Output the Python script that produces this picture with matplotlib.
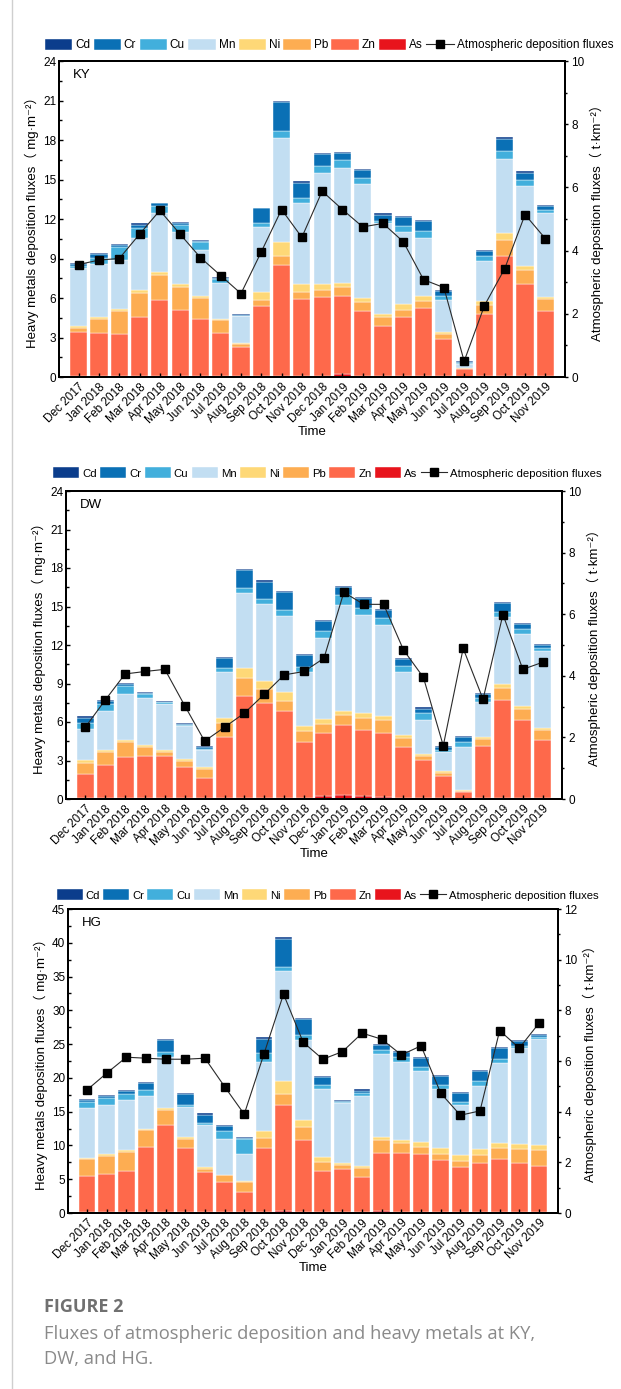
import numpy as np
import matplotlib
matplotlib.use("Agg")
import matplotlib.pyplot as plt
from matplotlib.patches import Patch
from matplotlib.lines import Line2D
from matplotlib.ticker import MultipleLocator

plt.rcParams['font.family'] = ['Liberation Sans', 'DejaVu Sans', 'Noto Sans CJK SC']
plt.rcParams['font.size'] = 8.5

months = ['Dec 2017', 'Jan 2018', 'Feb 2018', 'Mar 2018', 'Apr 2018', 'May 2018',
          'Jun 2018', 'Jul 2018', 'Aug 2018', 'Sep 2018', 'Oct 2018', 'Nov 2018',
          'Dec 2018', 'Jan 2019', 'Feb 2019', 'Mar 2019', 'Apr 2019', 'May 2019',
          'Jun 2019', 'Jul 2019', 'Aug 2019', 'Sep 2019', 'Oct 2019', 'Nov 2019']

metals = ['Cd', 'Cr', 'Cu', 'Mn', 'Ni', 'Pb', 'Zn', 'As']
colors = {'Cd': '#0b3d8c', 'Cr': '#0a70b5', 'Cu': '#42afdc', 'Mn': '#c2def2',
          'Ni': '#fed877', 'Pb': '#fdad52', 'Zn': '#fe694b', 'As': '#e8141c'}

# KY site, mg/m2 per metal
ky_as = [.05, .05, .05, .08, .08, .06, .05, .05, .04, .06, .08, .06,
         .08, .22, .06, .06, .06, .06, .04, .02, .05, .08, .08, .06]
ky_zn = [3.37, 3.29, 3.22, 4.48, 5.75, 5.01, 4.33, 3.29, 2.24, 5.31, 8.41, 5.87,
         6.00, 5.94, 4.96, 3.82, 4.50, 5.19, 2.87, .56, 4.76, 9.09, 7.02, 4.93]
ky_pb = [.30, 1.07, 1.75, 1.83, 1.90, 1.77, 1.62, .97, .20, .46, .68, .53,
         .56, .68, .68, .68, .56, .53, .33, .08, .69, 1.27, 1.06, .94]
ky_ni = [.18, .13, .15, .20, .28, .20, .18, .10, .10, .61, 1.12, .58,
         .45, .33, .33, .25, .40, .38, .18, .05, .28, .46, .30, .15]
ky_mn = [4.41, 4.03, 3.70, 4.00, 4.41, 3.98, 3.45, 2.74, 2.03, 4.96, 7.83, 6.19,
         8.44, 8.72, 8.62, 6.90, 5.50, 4.43, 2.46, .28, 3.04, 5.65, 6.03, 6.39]
ky_cu = [.13, .45, 1.01, .76, .58, .51, .61, .27, .03, .26, .56, .33,
         .51, .58, .48, .15, .43, .51, .25, .07, .35, .63, .46, .20]
ky_cr = [.18, .31, .13, .23, .18, .18, .07, .11, .10, 1.14, 2.17, 1.19,
         .86, .51, .58, .48, .69, .76, .38, .08, .41, .86, .56, .33]
ky_cd = [.07, .07, .07, .08, .07, .07, .08, .05, .07, .07, .13, .12,
         .10, .10, .08, .08, .10, .10, .08, .05, .10, .15, .10, .08]
ky_flux = [3.56, 3.70, 3.75, 4.52, 5.27, 4.52, 3.78, 3.21, 2.64, 3.96, 5.30, 4.42,
           5.88, 5.30, 4.75, 4.86, 4.28, 3.08, 2.83, 0.50, 2.26, 3.43, 5.14, 4.38]

# DW site
dw_as = [.05, .06, .08, .08, .10, .06, .04, .06, .10, .10, .10, .08,
         .20, .30, .20, .15, .06, .05, .04, .02, .05, .08, .06, .10]
dw_zn = [1.92, 2.56, 3.16, 3.24, 3.27, 2.43, 1.59, 4.76, 7.96, 7.36, 6.79, 4.40,
         4.93, 5.48, 5.19, 4.96, 3.96, 2.96, 1.72, .52, 4.10, 7.64, 6.11, 4.46]
dw_pb = [.86, 1.01, 1.19, .70, .26, .49, .73, 1.09, 1.40, 1.09, .76, .78,
         .70, .78, .96, 1.06, .72, .31, .26, .11, .52, .91, .85, .78]
dw_ni = [.23, .21, .18, .15, .18, .16, .15, .39, .73, .68, .67, .39,
         .42, .31, .34, .31, .26, .18, .13, .08, .13, .31, .26, .18]
dw_mn = [2.41, 3.03, 3.58, 3.68, 3.63, 2.51, 1.27, 3.63, 5.88, 5.96, 5.91, 4.28,
         6.27, 8.24, 7.64, 7.08, 4.88, 2.67, 1.48, 3.31, 2.79, 5.21, 5.58, 6.01]
dw_cu = [.44, .57, .65, .37, .08, .13, .11, .26, .39, .39, .49, .36,
         .57, .78, .57, .57, .51, .52, .15, .39, .26, .44, .39, .26]
dw_cr = [.44, .21, .10, .07, .07, .10, .18, .77, 1.37, 1.35, 1.38, .93,
         .78, .60, .73, .59, .52, .33, .24, .37, .31, .65, .38, .21]
dw_cd = [.08, .07, .08, .08, .08, .08, .08, .11, .13, .10, .10, .08,
         .10, .10, .08, .11, .11, .13, .13, .10, .08, .10, .11, .10]
dw_flux = [2.33, 3.21, 4.06, 4.14, 4.21, 3.03, 1.88, 2.33, 2.79, 3.40, 4.03, 4.14,
           4.57, 6.71, 6.32, 6.32, 4.84, 3.95, 1.73, 4.89, 3.24, 5.99, 4.21, 4.44]

# HG site
hg_as = [.20, .20, .20, .20, .20, .20, .15, .12, .10, .20, .30, .20,
         .15, .15, .15, .25, .20, .15, .15, .15, .15, .20, .20, .20]
hg_zn = [5.32, 5.62, 6.06, 9.51, 12.86, 9.36, 5.86, 4.41, 2.96, 9.36, 15.72, 10.55,
         6.11, 6.41, 5.12, 8.62, 8.67, 8.62, 7.64, 6.65, 7.24, 7.78, 7.19, 6.80]
hg_pb = [2.47, 2.66, 2.71, 2.51, 2.22, 1.38, .55, 1.04, 1.47, 1.53, 1.63, 1.97,
         1.23, .59, 1.38, 1.97, 1.48, .99, .98, .94, 1.14, 1.63, 2.07, 2.37]
hg_ni = [.14, .24, .30, .20, .25, .25, .19, .10, .15, .99, 1.82, 1.08,
         .74, .24, .35, .40, .49, .69, .84, .79, .93, .74, .74, .63]
hg_mn = [7.35, 7.30, 7.39, 4.93, 7.49, 4.44, 6.31, 5.27, 4.09, 10.25, 16.41, 11.83,
         10.16, 8.88, 10.35, 12.27, 11.44, 10.60, 8.78, 7.49, 9.27, 11.83, 14.20, 15.73]
hg_cu = [.93, .98, .99, .79, .79, .29, .20, 1.14, 2.17, 1.33, .59, .74,
         .49, .14, .39, .64, .74, .54, .59, .39, .74, .64, .30, .39]
hg_cr = [.35, .35, .34, 1.08, 1.82, 1.68, 1.28, .74, .10, 2.07, 4.10, 2.42,
         1.23, .15, .35, .74, .79, 1.33, 1.23, 1.33, 1.48, 1.58, .75, .25]
hg_cd = [.15, .15, .15, .20, .15, .14, .20, .14, .15, .29, .24, .14,
         .15, .10, .25, .15, .19, .15, .20, .20, .24, .15, .15, .15]
hg_flux = [4.86, 5.52, 6.15, 6.11, 6.07, 6.07, 6.11, 4.99, 3.90, 6.27, 8.64, 6.74,
           6.07, 6.37, 7.10, 6.86, 6.24, 6.60, 4.73, 3.86, 4.03, 7.20, 6.51, 7.49]

W, H = 621, 1389
fig = plt.figure(figsize=(W / 100, H / 100), dpi=100)


def rect(left, top, right, bottom):
    return [left / W, 1 - bottom / H, (right - left) / W, (bottom - top) / H]


def draw_site(box, name, parts, flux, ymax, ystep, rmax, legend_xy, legend_size):
    ax = fig.add_axes(rect(*box))
    x = np.arange(len(months))
    base = np.zeros(len(months))
    for metal in ['As', 'Zn', 'Pb', 'Ni', 'Mn', 'Cu', 'Cr', 'Cd']:
        vals = np.array(parts[metal])
        ax.bar(x, vals, 0.85, bottom=base, color=colors[metal],
               edgecolor='white', linewidth=0.3)
        base += vals

    ax.set_xlim(-0.97, 23.97)
    ax.set_ylim(0, ymax)
    ax.yaxis.set_major_locator(MultipleLocator(ystep))
    ax.yaxis.set_minor_locator(MultipleLocator(ystep / 2))
    ax.set_xticks(x)
    ax.set_xticklabels(months, rotation=45, ha='right', rotation_mode='anchor')
    ax.tick_params(axis='x', direction='in', length=3, width=1, pad=3)
    ax.tick_params(axis='y', which='major', direction='in', length=3, width=1, pad=2)
    ax.tick_params(axis='y', which='minor', direction='in', length=2, width=1)
    ax.set_ylabel('Heavy metals deposition fluxes（ mg·m⁻²）', labelpad=3, fontsize=9.5)
    ax.set_xlabel('Time', labelpad=0, fontsize=9.5)
    ax.text(0.028, 0.975, name, transform=ax.transAxes, va='top', ha='left', fontsize=9.5)

    ax2 = ax.twinx()
    ax2.plot(x, flux, color='#2a2a2a', lw=0.8, marker='s', ms=5.5,
             mfc='black', mec='black')
    ax2.set_ylim(0, rmax)
    ax2.yaxis.set_major_locator(MultipleLocator(2))
    ax2.yaxis.set_minor_locator(MultipleLocator(1))
    ax2.tick_params(axis='y', which='major', direction='out', length=2.5, width=1, pad=2)
    ax2.tick_params(axis='y', which='minor', direction='out', length=1.5, width=1)
    ax2.set_ylabel('Atmospheric deposition fluxes（ t·km⁻²）', labelpad=4, fontsize=9.5)

    for a in (ax, ax2):
        for s in a.spines.values():
            s.set_linewidth(1.4)

    handles = [Patch(facecolor=colors[m], edgecolor='white', linewidth=0.3, label=m)
               for m in metals]
    handles.append(Line2D([], [], color='#2a2a2a', lw=0.8, marker='s', ms=5.5,
                          mfc='black', mec='black', label='Atmospheric deposition fluxes'))
    lx, ly = legend_xy
    fig.legend(handles=handles, loc='center left', ncol=9,
               bbox_to_anchor=(lx / W, 1 - ly / H), frameon=False,
               handlelength=2.3, handleheight=1.1, handletextpad=0.25,
               columnspacing=0.3, borderpad=0, borderaxespad=0, fontsize=legend_size)


draw_site((59, 61, 565, 377), 'KY',
          {'As': ky_as, 'Zn': ky_zn, 'Pb': ky_pb, 'Ni': ky_ni, 'Mn': ky_mn,
           'Cu': ky_cu, 'Cr': ky_cr, 'Cd': ky_cd},
          ky_flux, 24, 3, 10, (45, 45), 8.5)
draw_site((66, 491, 562, 799), 'DW',
          {'As': dw_as, 'Zn': dw_zn, 'Pb': dw_pb, 'Ni': dw_ni, 'Mn': dw_mn,
           'Cu': dw_cu, 'Cr': dw_cr, 'Cd': dw_cd},
          dw_flux, 24, 3, 10, (53, 473), 8.2)
draw_site((68, 909, 558, 1213), 'HG',
          {'As': hg_as, 'Zn': hg_zn, 'Pb': hg_pb, 'Ni': hg_ni, 'Mn': hg_mn,
           'Cu': hg_cu, 'Cr': hg_cr, 'Cd': hg_cd},
          hg_flux, 45, 5, 12, (57, 895), 8.1)

# page border on the left and caption
fig.add_artist(Line2D([12 / W, 12 / W], [0, 1], color='#cfcfcf', lw=1))
fig.text(44 / W, 1 - 1307 / H, 'FIGURE 2', fontsize=13, fontweight='bold',
         color='#707070', family='Open Sans', va='center')
fig.text(44 / W, 1 - 1334 / H, 'Fluxes of atmospheric deposition and heavy metals at KY,',
         fontsize=13.2, color='#8a8a8a', family='Open Sans', va='center')
fig.text(44 / W, 1 - 1359 / H, 'DW, and HG.',
         fontsize=13.2, color='#8a8a8a', family='Open Sans', va='center')

fig.savefig('out.png', dpi=100)
